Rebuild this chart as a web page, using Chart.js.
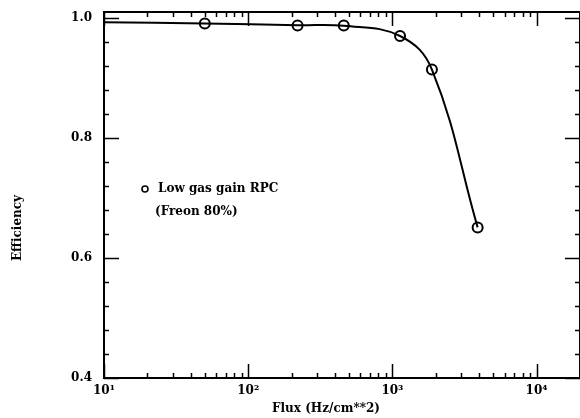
<!DOCTYPE html>
<html><head><meta charset="utf-8">
<script src="https://cdn.jsdelivr.net/npm/chart.js@4/dist/chart.umd.min.js"></script>
<style>html,body{margin:0;padding:0;background:#fff}#wrap{width:580px;height:418px}</style>
</head><body><div id="wrap"><canvas id="c" width="580" height="418"></canvas></div>
<script>
// Measured points (circles)
const flux = [50, 220, 460, 1130, 1880, 3900];
const efficiency = [0.991, 0.9875, 0.9875, 0.970, 0.914, 0.651];
// Drawn fit curve
const curveFlux = [10, 50, 220, 460, 1130, 1880, 3900];
const curveEff = [0.993, 0.991, 0.988, 0.987, 0.970, 0.914, 0.651];
// Axis ticks
const xMajor = [10, 100, 1000, 10000];
const xLabels = ['10\u00B9', '10\u00B2', '10\u00B3', '10\u2074'];
const xMinorMult = [2, 3, 4, 5, 6, 7, 8, 9];
const yMajor = [0.4, 0.6, 0.8, 1.0];
const yMinorStep = 0.04;
const legendLines = ['Low gas gain RPC', '(Freon 80%)'];
const xTitle = 'Flux (Hz/cm**2)';
const yTitle = 'Efficiency';

const FONT = 'bold 12px "DejaVu Serif", serif';

function xTickList() {
  const t = [];
  xMajor.forEach(m => { t.push({value: m}); xMinorMult.forEach(k => { if (m * k <= 20000) t.push({value: m * k}); }); });
  t.sort((a, b) => a.value - b.value);
  return t;
}
function yTickList() {
  const t = [];
  for (let i = 0; i <= 15; i++) t.push({value: Math.round((0.4 + i * yMinorStep) * 100) / 100});
  return t;
}

const framePlugin = {
  id: 'frame',
  afterDatasetsDraw(chart) {
    const {ctx, chartArea: a, scales: {x, y}} = chart;
    ctx.save();
    ctx.strokeStyle = '#000';
    ctx.lineWidth = 2;
    ctx.strokeRect(a.left, a.top, a.right - a.left, a.bottom - a.top);
    ctx.lineWidth = 1.5;
    ctx.beginPath();
    x.ticks.forEach(t => {
      const px = Math.round(x.getPixelForValue(t.value)) + 0.5;
      const major = xMajor.includes(t.value);
      const len = major ? 14 : 5;
      ctx.moveTo(px, a.bottom); ctx.lineTo(px, a.bottom - len);
      ctx.moveTo(px, a.top); ctx.lineTo(px, a.top + len);
    });
    y.ticks.forEach(t => {
      const py = Math.round(y.getPixelForValue(t.value)) + 0.5;
      const major = yMajor.some(v => Math.abs(v - t.value) < 1e-6);
      const len = major ? 15 : 5;
      ctx.moveTo(a.left, py); ctx.lineTo(a.left + len, py);
      ctx.moveTo(a.right, py); ctx.lineTo(a.right - len, py);
    });
    ctx.stroke();

    // legend
    ctx.fillStyle = '#000';
    ctx.font = FONT;
    ctx.textBaseline = 'middle';
    ctx.textAlign = 'left';
    ctx.lineWidth = 1.6;
    ctx.beginPath(); ctx.arc(145, 189, 3, 0, Math.PI * 2); ctx.stroke();
    ctx.fillText(legendLines[0], 158, 189);
    ctx.fillText(legendLines[1], 155, 212);

    // axis titles
    ctx.textAlign = 'center';
    ctx.fillText(xTitle, 326, 409);
    ctx.translate(18, 228);
    ctx.rotate(-Math.PI / 2);
    ctx.fillText(yTitle, 0, 0);
    ctx.restore();
  }
};

new Chart(document.getElementById('c'), {
  type: 'line',
  data: {
    datasets: [
      {
        data: curveFlux.map((v, i) => ({x: v, y: curveEff[i]})),
        borderColor: '#000', borderWidth: 2, pointRadius: 0,
        tension: 0.4, fill: false
      },
      {
        data: flux.map((v, i) => ({x: v, y: efficiency[i]})),
        showLine: false, pointRadius: 5, pointBorderWidth: 2,
        pointBackgroundColor: '#fff', pointBorderColor: '#000'
      }
    ]
  },
  options: {
    responsive: false, animation: false,
    layout: {autoPadding: false, padding: {top: 12, right: 0, left: 0, bottom: 0}},
    plugins: {legend: {display: false}, tooltip: {enabled: false}},
    scales: {
      x: {
        type: 'logarithmic', min: 10, max: 20000,
        grid: {display: false, drawTicks: false}, border: {display: false},
        afterBuildTicks: s => { s.ticks = xTickList(); },
        afterFit: s => { s.height = 40; s.paddingLeft = 0; s.paddingRight = 0; },
        ticks: {
          autoSkip: false, maxRotation: 0, padding: 6,
          color: '#000', font: {family: '"DejaVu Serif", serif', size: 12, weight: 'bold'},
          callback: (v) => { const i = xMajor.indexOf(v); return i >= 0 ? xLabels[i] : ''; }
        }
      },
      y: {
        type: 'linear', min: 0.4, max: 1.01,
        grid: {display: false, drawTicks: false}, border: {display: false},
        afterBuildTicks: s => { s.ticks = yTickList(); },
        afterFit: s => { s.width = 104; s.paddingTop = 0; s.paddingBottom = 0; },
        ticks: {
          autoSkip: false, padding: 12,
          color: '#000', font: {family: '"DejaVu Serif", serif', size: 12, weight: 'bold'},
          callback: (v) => yMajor.some(m => Math.abs(m - v) < 1e-6) ? v.toFixed(1) : ''
        }
      }
    }
  },
  plugins: [framePlugin]
});
</script></body></html>
